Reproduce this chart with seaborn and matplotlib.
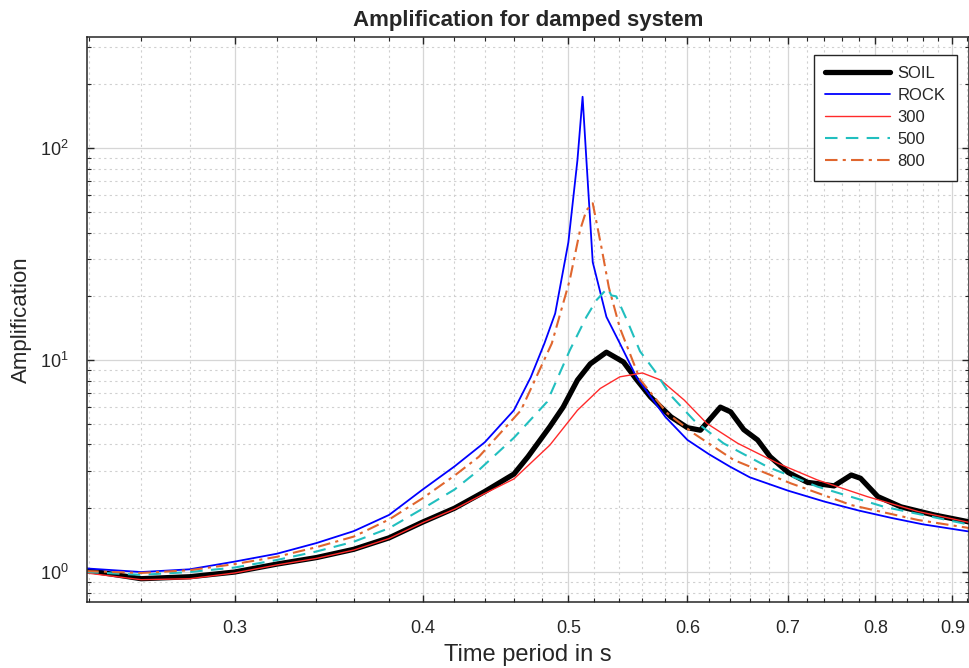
import numpy as np
import pandas as pd
import matplotlib
matplotlib.use("Agg")
import matplotlib.pyplot as plt
import matplotlib.ticker as mticker
import seaborn as sns

# Datos (periodo en s, amplificacion)
t_soil = [0.239, 0.26, 0.28, 0.30, 0.32, 0.34, 0.36, 0.38, 0.40, 0.42, 0.44, 0.46,
          0.47, 0.486, 0.496, 0.507, 0.517, 0.53, 0.544, 0.555, 0.567, 0.585, 0.60,
          0.612, 0.631, 0.641, 0.654, 0.668, 0.681, 0.70, 0.721, 0.751, 0.771,
          0.782, 0.803, 0.832, 0.875, 0.925]
a_soil = [1.02, 0.93, 0.95, 1.0, 1.09, 1.17, 1.28, 1.45, 1.72, 2.0, 2.4, 2.9,
          3.5, 4.85, 6.0, 8.05, 9.6, 10.9, 9.8, 8.1, 6.7, 5.4, 4.8,
          4.67, 6.0, 5.7, 4.7, 4.2, 3.5, 2.95, 2.65, 2.55, 2.87,
          2.77, 2.27, 2.03, 1.86, 1.72]

t_rock = [0.239, 0.26, 0.28, 0.30, 0.32, 0.34, 0.36, 0.38, 0.40, 0.42, 0.44, 0.46,
          0.472, 0.482, 0.49, 0.50, 0.507, 0.511, 0.514, 0.519, 0.53, 0.541, 0.555,
          0.57, 0.58, 0.60, 0.62, 0.64, 0.66, 0.68, 0.70, 0.74, 0.78, 0.82, 0.86, 0.925]
a_rock = [1.04, 1.0, 1.03, 1.12, 1.22, 1.37, 1.56, 1.86, 2.45, 3.15, 4.1, 5.8,
          8.3, 12.0, 16.6, 36.0, 88.0, 175.0, 88.0, 29.0, 16.0, 12.0, 8.3,
          6.4, 5.4, 4.2, 3.6, 3.15, 2.8, 2.6, 2.42, 2.15, 1.95, 1.8, 1.68, 1.55]

t_300 = [0.239, 0.26, 0.28, 0.30, 0.32, 0.34, 0.36, 0.38, 0.40, 0.42, 0.44, 0.46,
         0.486, 0.507, 0.525, 0.541, 0.56, 0.576, 0.597, 0.618, 0.648, 0.689,
         0.732, 0.79, 0.854, 0.925]
a_300 = [0.99, 0.92, 0.93, 0.99, 1.08, 1.16, 1.27, 1.44, 1.71, 1.98, 2.35, 2.75,
         3.97, 5.8, 7.35, 8.34, 8.7, 8.05, 6.48, 5.03, 4.05, 3.26,
         2.72, 2.27, 1.93, 1.71]

t_500 = [0.239, 0.26, 0.28, 0.30, 0.32, 0.34, 0.36, 0.38, 0.40, 0.42, 0.436, 0.46,
         0.484, 0.501, 0.514, 0.522, 0.531, 0.534, 0.538, 0.547, 0.558, 0.57,
         0.585, 0.606, 0.634, 0.678, 0.732, 0.811, 0.925]
a_500 = [1.0, 0.97, 1.0, 1.05, 1.14, 1.25, 1.39, 1.61, 1.99, 2.45, 3.03, 4.3,
         6.36, 11.1, 16.0, 19.2, 21.9, 20.2, 20.0, 15.4, 11.0, 9.0,
         6.8, 5.2, 4.05, 3.14, 2.53, 2.03, 1.67]

t_800 = [0.239, 0.26, 0.28, 0.30, 0.32, 0.34, 0.36, 0.38, 0.40, 0.42, 0.436, 0.465,
         0.4875, 0.501, 0.509, 0.514, 0.519, 0.526, 0.532, 0.541, 0.558, 0.582,
         0.606, 0.644, 0.703, 0.771, 0.854, 0.925]
a_800 = [1.01, 0.99, 1.02, 1.09, 1.18, 1.31, 1.47, 1.77, 2.23, 2.85, 3.5, 5.8,
         12.0, 23.8, 41.0, 51.0, 55.0, 34.0, 22.0, 14.2, 8.1, 5.6,
         4.5, 3.38, 2.62, 2.07, 1.76, 1.61]

x_ticks = [0.3, 0.4, 0.5, 0.6, 0.7, 0.8, 0.9]
x_labels = ["0.3", "0.4", "0.5", "0.6", "0.7", "0.8", "0.9"]

series = [
    ("SOIL", t_soil, a_soil, "black", "-", 3.8),
    ("ROCK", t_rock, a_rock, "#0000ff", "-", 1.3),
    ("300", t_300, a_300, "#ff2a2a", "-", 1.0),
    ("500", t_500, a_500, "#21bfbf", (0, (6, 4)), 1.5),
    ("800", t_800, a_800, "#e0662e", (0, (6, 2.5, 1.5, 2.5)), 1.5),
]

sns.set_style("ticks")
plt.rcParams["font.family"] = ["Liberation Sans", "DejaVu Sans"]
plt.rcParams["mathtext.default"] = "regular"

fig = plt.figure(figsize=(9.69, 6.68), dpi=100)
ax = fig.add_axes([0.0898, 0.0988, 0.91, 0.8458])

for nombre, t, a, color, ls, lw in series:
    df = pd.DataFrame({"t": t, "a": a})
    sns.lineplot(data=df, x="t", y="a", ax=ax, color=color, linestyle=ls,
                 linewidth=lw, label=nombre)

ax.set_xscale("log")
ax.set_yscale("log")
ax.set_xlim(0.2393, 0.923)
ax.set_ylim(0.722, 335)

ax.xaxis.set_major_locator(mticker.FixedLocator(x_ticks))
ax.xaxis.set_major_formatter(mticker.FixedFormatter(x_labels))
minor_x = [v for v in np.arange(0.24, 0.93, 0.02) if min(abs(v - m) for m in x_ticks) > 1e-6]
ax.xaxis.set_minor_locator(mticker.FixedLocator(minor_x))
ax.xaxis.set_minor_formatter(mticker.NullFormatter())
ax.yaxis.set_major_locator(mticker.LogLocator(base=10, numticks=10))
ax.yaxis.set_minor_locator(mticker.LogLocator(base=10, subs=np.arange(2, 10), numticks=20))
ax.yaxis.set_minor_formatter(mticker.NullFormatter())

ax.grid(True, which="major", color="#d6d6d6", linewidth=0.9, linestyle="-")
ax.grid(True, which="minor", color="#d0d0d0", linewidth=0.8, linestyle=(0, (2, 3)))
ax.set_axisbelow(True)

ax.tick_params(which="both", direction="in", top=True, right=True, colors="#262626",
               labelcolor="#262626")
ax.tick_params(which="major", length=5, width=1, labelsize=13, pad=13)
ax.tick_params(which="minor", length=3, width=0.8)
for sp in ax.spines.values():
    sp.set_color("#262626")
    sp.set_linewidth(1.1)

ax.set_title("Amplification for damped system", fontsize=16, fontweight="bold", pad=8)
ax.set_xlabel("Time period in s", fontsize=17, color="#262626", labelpad=5)
ax.set_ylabel("Amplification", fontsize=16, color="#262626", labelpad=6)

leg = ax.legend(loc="upper right", bbox_to_anchor=(0.987, 0.969), borderaxespad=0,
                fontsize=12, handlelength=3.9, handletextpad=0.45, labelspacing=0.42,
                frameon=True, fancybox=False, framealpha=1, borderpad=0.7)
leg.get_frame().set_edgecolor("#262626")
leg.get_frame().set_linewidth(1.0)

fig.savefig("out.png", dpi=100)
